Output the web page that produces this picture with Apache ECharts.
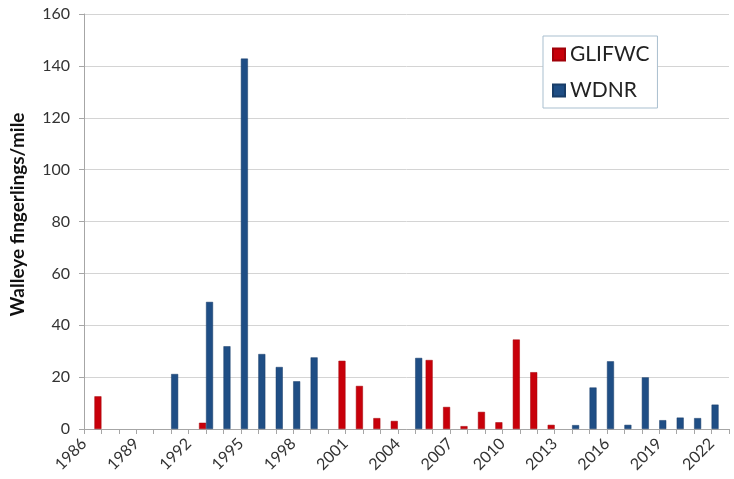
<!DOCTYPE html>
<html>
<head>
<meta charset="utf-8">
<script src="https://cdn.jsdelivr.net/npm/echarts@6/dist/echarts.min.js"></script>
<style>
  html, body { margin: 0; padding: 0; background: #fff; }
  #chart { width: 734px; height: 479px; }
</style>
</head>
<body>
<div id="chart"></div>
<script>
// survey years (2023 is an empty slot at the right edge)
const years = ['1986', '1987', '1988', '1989', '1990', '1991', '1992', '1993', '1994', '1995',
  '1996', '1997', '1998', '1999', '2000', '2001', '2002', '2003', '2004', '2005',
  '2006', '2007', '2008', '2009', '2010', '2011', '2012', '2013', '2014', '2015',
  '2016', '2017', '2018', '2019', '2020', '2021', '2022', '2023'];

const glifwc = [null, 12.6, null, null, null, null, null, 2.4, null, null,
  null, null, null, null, null, 26.3, 16.6, 4.2, 3.1, null,
  26.6, 8.5, 1.1, 6.6, 2.6, 34.5, 21.9, 1.6, null, null,
  null, null, null, null, null, null, null, null];

const wdnr = [null, null, null, null, null, 21.2, null, 49, 31.9, 142.8,
  28.9, 23.9, 18.4, 27.6, null, null, null, null, null, 27.4,
  null, null, null, null, null, null, null, null, 1.5, 16.0,
  26.1, 1.6, 19.9, 3.4, 4.4, 4.2, 9.4, null];

const yTicks = { min: 0, max: 160, step: 20 };

const FONT = 'Lato, "Open Sans", sans-serif';
const chart = echarts.init(document.getElementById('chart'));

chart.setOption({
  animation: false,
  textStyle: { fontFamily: FONT },
  grid: { left: 82, right: 5, top: 14, bottom: 50, containLabel: false },
  legend: {
    orient: 'vertical',
    left: 543,
    top: 36,
    padding: [8, 8, 7, 9],
    itemGap: 15,
    itemWidth: 12,
    itemHeight: 12,
    icon: 'rect',
    backgroundColor: '#fff',
    borderColor: '#a9bfcf',
    borderWidth: 1,
    textStyle: { fontSize: 21, color: '#222', fontFamily: FONT },
    data: ['GLIFWC', 'WDNR']
  },
  xAxis: {
    type: 'category',
    data: years,
    boundaryGap: false,
    axisLine: { lineStyle: { color: '#a6a6a6' } },
    axisTick: { show: true, interval: 0, length: 5, lineStyle: { color: '#a6a6a6' } },
    axisLabel: {
      interval: 2,
      rotate: 45,
      fontSize: 16,
      color: '#333',
      margin: 12
    },
    splitLine: { show: false }
  },
  yAxis: {
    type: 'value',
    min: yTicks.min,
    max: yTicks.max,
    interval: yTicks.step,
    name: 'Walleye fingerlings/mile',
    nameLocation: 'middle',
    nameGap: 57,
    nameTextStyle: { fontSize: 19, fontWeight: 'bold', color: '#111', padding: [0, 0, 0, 14] },
    axisLine: { show: true, lineStyle: { color: '#a6a6a6' } },
    axisTick: { show: true, length: 5, lineStyle: { color: '#a6a6a6' } },
    axisLabel: { fontSize: 16, color: '#333', margin: 14 },
    splitLine: { lineStyle: { color: '#d4d4d4' } }
  },
  series: [
    {
      name: 'GLIFWC',
      type: 'bar',
      data: glifwc,
      barWidth: 7,
      barGap: '0%',
      itemStyle: { color: '#c8000a', borderColor: '#a00008', borderWidth: 0.5 }
    },
    {
      name: 'WDNR',
      type: 'bar',
      data: wdnr,
      barWidth: 7,
      barGap: '0%',
      itemStyle: { color: '#1f4e85', borderColor: '#183d68', borderWidth: 0.5 }
    }
  ]
});
</script>
</body>
</html>
